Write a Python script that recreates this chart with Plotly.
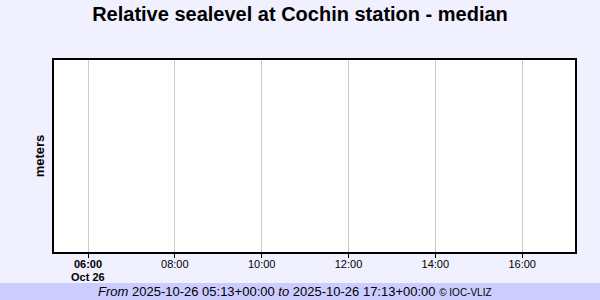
import plotly.graph_objects as go

# Data (the reference chart is empty: no sea-level samples in the window)
times = []
values = []
range_start = "2025-10-26 05:13"
range_end = "2025-10-26 17:13"
tick_times = ["2025-10-26 06:00", "2025-10-26 08:00", "2025-10-26 10:00",
              "2025-10-26 12:00", "2025-10-26 14:00", "2025-10-26 16:00"]
tick_labels = ["<b>06:00</b>", "08:00", "10:00", "12:00", "14:00", "16:00"]
date_label = "Oct 26"

title_text = "Relative sealevel at Cochin station - median"
footer_text = ("<i>From</i> 2025-10-26 05:13+00:00 <i>to</i> 2025-10-26 17:13+00:00 "
               "<span style='font-size:10px'>© IOC-VLIZ</span>")

W, H = 600, 300
ml, mr, mt, mb = 54, 25, 60, 48
pw, ph = W - ml - mr, H - mt - mb
bottom = mt + ph

fig = go.Figure()
fig.add_trace(go.Scatter(x=times, y=values, mode="lines",
                         line=dict(color="#0000cc", width=1), showlegend=False))

fig.update_layout(
    width=W, height=H,
    margin=dict(l=ml, r=mr, t=mt, b=mb),
    paper_bgcolor="#f0f0ff",
    plot_bgcolor="#ffffff",
    font=dict(family="Liberation Sans, Arial, sans-serif", color="#000000", size=11),
    title=dict(text="<b>" + title_text + "</b>", x=0.5, xanchor="center",
               y=1 - 14 / H, yanchor="middle", font=dict(size=20, color="#000000")),
    showlegend=False,
)

fig.update_xaxes(
    type="date", range=[range_start, range_end],
    tickmode="array", tickvals=tick_times, ticktext=tick_labels,
    showgrid=True, gridcolor="#cccccc", gridwidth=1,
    showline=True, linecolor="#000000", linewidth=2, mirror=True,
    ticks="outside", ticklen=4, tickcolor="#000000", tickwidth=1,
    ticklabelstandoff=-3,
    tickfont=dict(size=11), zeroline=False,
)
fig.update_yaxes(
    range=[0, 1], showticklabels=False, showgrid=False, zeroline=False,
    showline=True, linecolor="#000000", linewidth=2, mirror=True, ticks="",
    title=dict(text="<b>meters</b>", font=dict(size=13), standoff=4),
)

# date label under first tick
fig.add_annotation(text="<b>" + date_label + "</b>", x=tick_times[0], xref="x",
                   yref="paper", y=-(277 - bottom) / ph, xanchor="center",
                   yanchor="middle", showarrow=False, font=dict(size=11))

# footer band
fig.add_shape(type="rect", xref="paper", yref="paper",
              x0=-ml / pw, x1=(W - ml) / pw,
              y0=-(mb) / ph, y1=-(283 - bottom) / ph,
              fillcolor="#ccccff", line=dict(width=0), layer="below")
fig.add_annotation(text=footer_text, xref="paper", yref="paper",
                   x=(294.5 - ml) / pw, y=-(291 - bottom) / ph,
                   xanchor="center", yanchor="middle", showarrow=False,
                   font=dict(size=13, color="#000000"))

fig.write_html("out.html")
